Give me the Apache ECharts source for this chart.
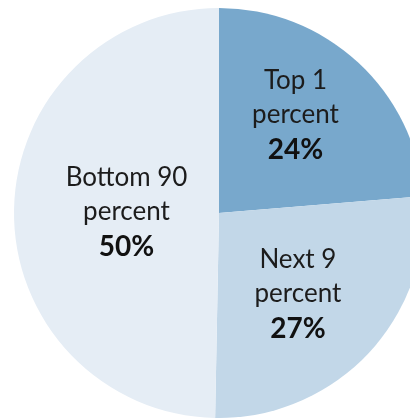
<!DOCTYPE html>
<html>
<head>
<meta charset="utf-8">
<script src="https://cdn.jsdelivr.net/npm/echarts@6/dist/echarts.min.js"></script>
<style>
html,body{margin:0;padding:0;background:#fff;}
#chart{width:410px;height:418px;}
</style>
</head>
<body>
<div id="chart"></div>
<script>
const categories = ["Top 1\npercent", "Next 9\npercent", "Bottom 90\npercent"];
const shares = [23.7, 26.6, 49.7];
const colors = ["#78a8cc", "#c2d7e8", "#e5edf5"];
const labelNudge = [[5, -19], [2, 10], [13, 1]];

const chart = echarts.init(document.getElementById('chart'), null, {renderer: 'canvas'});
chart.setOption({
  animation: false,
  series: [{
    type: 'pie',
    center: [219, 213],
    radius: [0, 205],
    startAngle: 90,
    clockwise: true,
    avoidLabelOverlap: false,
    data: categories.map((c, i) => ({name: c, value: shares[i], itemStyle: {color: colors[i]}})),
    itemStyle: {borderWidth: 0},
    label: {
      show: true,
      position: 'inside',
      formatter: p => '{a|' + p.name.split('\n').join('}\n{a|') + '}\n{b|' + Math.round(p.value) + '%}',
      rich: {
        a: {fontFamily: 'Lato', fontSize: 26, lineHeight: 34, color: '#1c1c1c', align: 'center'},
        b: {fontFamily: 'Lato', fontSize: 28, fontWeight: 'bold', lineHeight: 37, color: '#111', align: 'center'}
      }
    },
    labelLine: {show: false},
    labelLayout: p => ({dx: labelNudge[p.dataIndex][0], dy: labelNudge[p.dataIndex][1]}),
    emphasis: {disabled: true}
  }]
});
</script>
</body>
</html>
